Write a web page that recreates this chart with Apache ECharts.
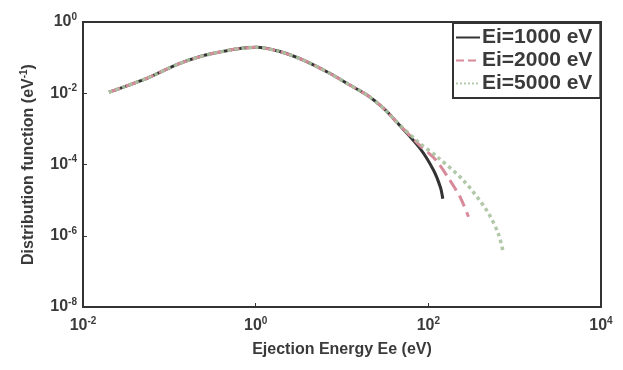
<!DOCTYPE html>
<html>
<head>
<meta charset="utf-8">
<script src="https://cdn.jsdelivr.net/npm/echarts@6/dist/echarts.min.js"></script>
<style>
    html, body { margin: 0; padding: 0; background: #fff; }
    #chart { width: 623px; height: 370px; }
</style>
</head>
<body>
<div id="chart"></div>
<script>
    // 读图得到的数据 (eV, eV^-1)
    var commonE = [0.020, 0.055, 0.133, 0.324, 1.0, 1.9, 3.9, 7.2, 12.3, 19.5, 30.2, 42.7];
    var commonF = [0.0107, 0.0263, 0.0692, 0.132, 0.195, 0.148, 0.0776, 0.0363, 0.0170, 0.00891, 0.00380, 0.00158];

    var tail1000E = [80.4, 115, 138, 147];
    var tail1000F = [2.8e-4, 6.9e-5, 2.3e-5, 1.1e-5];
    var tail2000E = [79, 120, 178, 234, 292];
    var tail2000F = [3.5e-4, 1.4e-4, 3.6e-5, 1.2e-5, 3.4e-6];
    var tail5000E = [79, 126, 254, 473, 646, 741];
    var tail5000F = [4.0e-4, 1.66e-4, 3.6e-5, 5.2e-6, 1.15e-6, 3.2e-7];

    var seriesNames = ['Ei=1000 eV', 'Ei=2000 eV', 'Ei=5000 eV'];

    function toLog(es, fs) {
        var out = [];
        for (var i = 0; i < es.length; i++) {
            out.push([Math.log10(es[i]), Math.log10(fs[i])]);
        }
        return out;
    }

    var d1000 = toLog(commonE.concat(tail1000E), commonF.concat(tail1000F));
    var d2000 = toLog(commonE.concat(tail2000E), commonF.concat(tail2000F));
    var d5000 = toLog(commonE.concat(tail5000E), commonF.concat(tail5000F));

    var font = 'Liberation Sans';
    var txt = '#3a3a3a';
    var powRich = {
        b: { fontFamily: font, fontSize: 16, fontWeight: 'bold', color: txt },
        sup: { fontFamily: font, fontSize: 10, fontWeight: 'bold', color: txt, verticalAlign: 'bottom', padding: [0, 0, 10, 0] }
    };
    function powLabel(v) {
        return '{b|10}{sup|' + v + '}';
    }

    var option = {
        backgroundColor: '#fff',
        animation: false,
        grid: {
            left: 83, right: 22, top: 22, bottom: 63,
            show: true,
            borderColor: '#333',
            borderWidth: 2
        },
        legend: {
            left: 453,
            top: 23,
            orient: 'vertical',
            data: seriesNames,
            itemWidth: 24,
            itemHeight: 12,
            itemGap: 2,
            padding: [4, 8, 4, 2],
            borderColor: '#333',
            borderWidth: 2,
            backgroundColor: '#fff',
            itemStyle: { opacity: 0 },
            textStyle: { fontFamily: font, fontSize: 21, fontWeight: 'bold', color: txt, padding: [0, 0, 0, -3] }
        },
        xAxis: {
            type: 'value',
            min: -2, max: 4, interval: 2,
            name: 'Ejection Energy Ee (eV)',
            nameLocation: 'middle',
            nameGap: 35,
            nameTextStyle: { fontFamily: font, fontSize: 16, fontWeight: 'bold', color: txt },
            axisLine: { show: true, onZero: false, lineStyle: { color: '#333', width: 2 } },
            axisTick: { show: true, inside: true, length: 4, lineStyle: { color: '#333' } },
            splitLine: { show: false },
            axisLabel: {
                margin: 9,
                formatter: powLabel,
                rich: powRich
            }
        },
        yAxis: {
            type: 'value',
            min: -8, max: 0, interval: 2,
            name: 'Distribution function (eV{sup|-1})',
            nameLocation: 'middle',
            nameGap: 45,
            nameTextStyle: {
                fontFamily: font, fontSize: 16, fontWeight: 'bold', color: txt,
                rich: {
                    sup: { fontFamily: font, fontSize: 10, fontWeight: 'bold', color: txt, verticalAlign: 'bottom', padding: [0, 0, 9, 0] }
                }
            },
            axisLine: { show: true, onZero: false, lineStyle: { color: '#333', width: 2 } },
            axisTick: { show: true, inside: true, length: 4, lineStyle: { color: '#333' } },
            splitLine: { show: false },
            axisLabel: {
                margin: 6,
                formatter: powLabel,
                rich: powRich
            }
        },
        series: [{
            name: seriesNames[0],
            type: 'line',
            smooth: 0.3,
            symbol: 'none',
            data: d1000,
            lineStyle: { color: '#333333', width: 3 },
            itemStyle: { color: '#333333' },
            z: 2
        }, {
            name: seriesNames[1],
            type: 'line',
            smooth: 0.3,
            symbol: 'none',
            data: d2000,
            lineStyle: { color: '#d88a9a', width: 3, type: 'dashed' },
            itemStyle: { color: '#d88a9a' },
            z: 3
        }, {
            name: seriesNames[2],
            type: 'line',
            smooth: 0.3,
            symbol: 'none',
            data: d5000,
            lineStyle: { color: '#a9c2a0', width: 3.5, type: 'dotted', opacity: 0.9 },
            itemStyle: { color: '#a9c2a0' },
            z: 4
        }]
    };

    var myChart = echarts.init(document.getElementById('chart'));
    myChart.setOption(option);
</script>
</body>
</html>
